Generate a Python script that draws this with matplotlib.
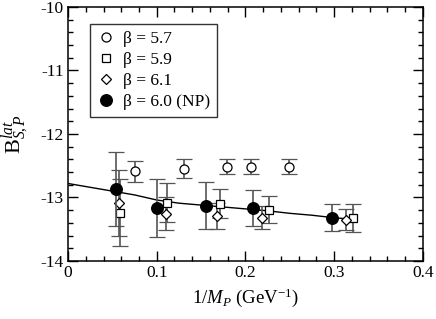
import matplotlib
matplotlib.use("Agg")
import matplotlib.pyplot as plt
from matplotlib.ticker import MultipleLocator
from matplotlib.lines import Line2D

plt.rcParams['font.family'] = ['Liberation Serif', 'DejaVu Serif']
plt.rcParams['mathtext.fontset'] = 'custom'
plt.rcParams['mathtext.rm'] = 'Liberation Serif'
plt.rcParams['mathtext.it'] = 'Liberation Serif:italic'
plt.rcParams['mathtext.bf'] = 'Liberation Serif:bold'

# beta = 5.7 (open circles)
x57 = [0.0755, 0.131, 0.1795, 0.206, 0.249]
y57 = [-12.59, -12.55, -12.515, -12.515, -12.515]
e57 = [0.17, 0.15, 0.12, 0.12, 0.12]

# beta = 5.9 (open squares)
x59 = [0.059, 0.111, 0.171, 0.227, 0.321]
y59 = [-13.24, -13.08, -13.10, -13.19, -13.33]
e59 = [0.53, 0.31, 0.23, 0.21, 0.22]

# beta = 6.1 (open diamonds)
x61 = [0.058, 0.110, 0.168, 0.219, 0.313]
y61 = [-13.09, -13.26, -13.29, -13.32, -13.35]
e61 = [0.52, 0.26, 0.21, 0.18, 0.17]

# beta = 6.0 (NP) (filled circles)
x60 = [0.054, 0.1006, 0.156, 0.208, 0.298]
y60 = [-12.87, -13.17, -13.13, -13.17, -13.32]
e60 = [0.58, 0.46, 0.37, 0.28, 0.21]

# fit curve
xfit = [0.0, 0.025, 0.05, 0.075, 0.1, 0.125, 0.15, 0.175, 0.2, 0.225, 0.25, 0.275, 0.3, 0.318]
yfit = [-12.78, -12.84, -12.90, -12.96, -13.04, -13.09, -13.12, -13.15, -13.18, -13.21, -13.25, -13.28, -13.32, -13.34]

labels = ['β = 5.7', 'β = 5.9', 'β = 6.1', 'β = 6.0 (NP)']

fig = plt.figure(figsize=(4.36, 3.19), dpi=100)
ax = fig.add_axes([0.156, 0.182, 0.814, 0.796])

ecol = '#555555'
ekw = dict(ecolor=ecol, elinewidth=1.2, capsize=5.5, capthick=1.2, linestyle='none')

ax.plot(xfit, yfit, color='black', lw=1.0, zorder=1)

ax.errorbar(x57, y57, yerr=e57, marker='o', ms=6.5, mfc='white', mec='black', mew=0.9, **ekw, zorder=3)
ax.errorbar(x59, y59, yerr=e59, marker='s', ms=5.8, mfc='white', mec='black', mew=0.9, **ekw, zorder=3)
ax.errorbar(x61, y61, yerr=e61, marker='D', ms=5.0, mfc='white', mec='black', mew=0.9, **ekw, zorder=3)
ax.errorbar(x60, y60, yerr=e60, marker='o', ms=8.4, mfc='black', mec='black', mew=0.9, **ekw, zorder=4)

hs = [Line2D([], [], marker='o', ms=6.5, mfc='white', mec='black', mew=0.9, ls='none'),
      Line2D([], [], marker='s', ms=5.8, mfc='white', mec='black', mew=0.9, ls='none'),
      Line2D([], [], marker='D', ms=5.0, mfc='white', mec='black', mew=0.9, ls='none'),
      Line2D([], [], marker='o', ms=8.4, mfc='black', mec='black', mew=0.9, ls='none')]
leg = ax.legend(hs, labels, loc='upper left', bbox_to_anchor=(0.063, 0.933), fontsize=12.5,
                frameon=True, fancybox=False, edgecolor='black', handlelength=1.0,
                handletextpad=0.5, borderpad=0.38, labelspacing=0.29, borderaxespad=0)
leg.get_frame().set_linewidth(1.0)

ax.set_xlim(0, 0.4)
ax.set_ylim(-14, -10)
ax.xaxis.set_minor_locator(MultipleLocator(0.02))
ax.yaxis.set_minor_locator(MultipleLocator(0.2))
ax.set_xticks([0, 0.1, 0.2, 0.3, 0.4])
ax.set_xticklabels(['0', '0.1', '0.2', '0.3', '0.4'])
ax.set_yticks([-14, -13, -12, -11, -10])
ax.set_yticklabels(['-14', '-13', '-12', '-11', '-10'])
ax.tick_params(which='both', direction='in', top=True, right=True, labelsize=12.5)
ax.tick_params(which='major', length=7, width=1.0, pad=3)
ax.tick_params(which='minor', length=3.5, width=1.0)
for s in ax.spines.values():
    s.set_linewidth(1.1)

ax.set_xlabel(r'1/$M_P$ (GeV$^{\mathrm{-1}}$)', fontsize=13.5, labelpad=4)
ax.set_ylabel(r'$\mathrm{B}_{S,P}^{lat}$', fontsize=16, labelpad=6)

fig.savefig('out.png', dpi=100)
